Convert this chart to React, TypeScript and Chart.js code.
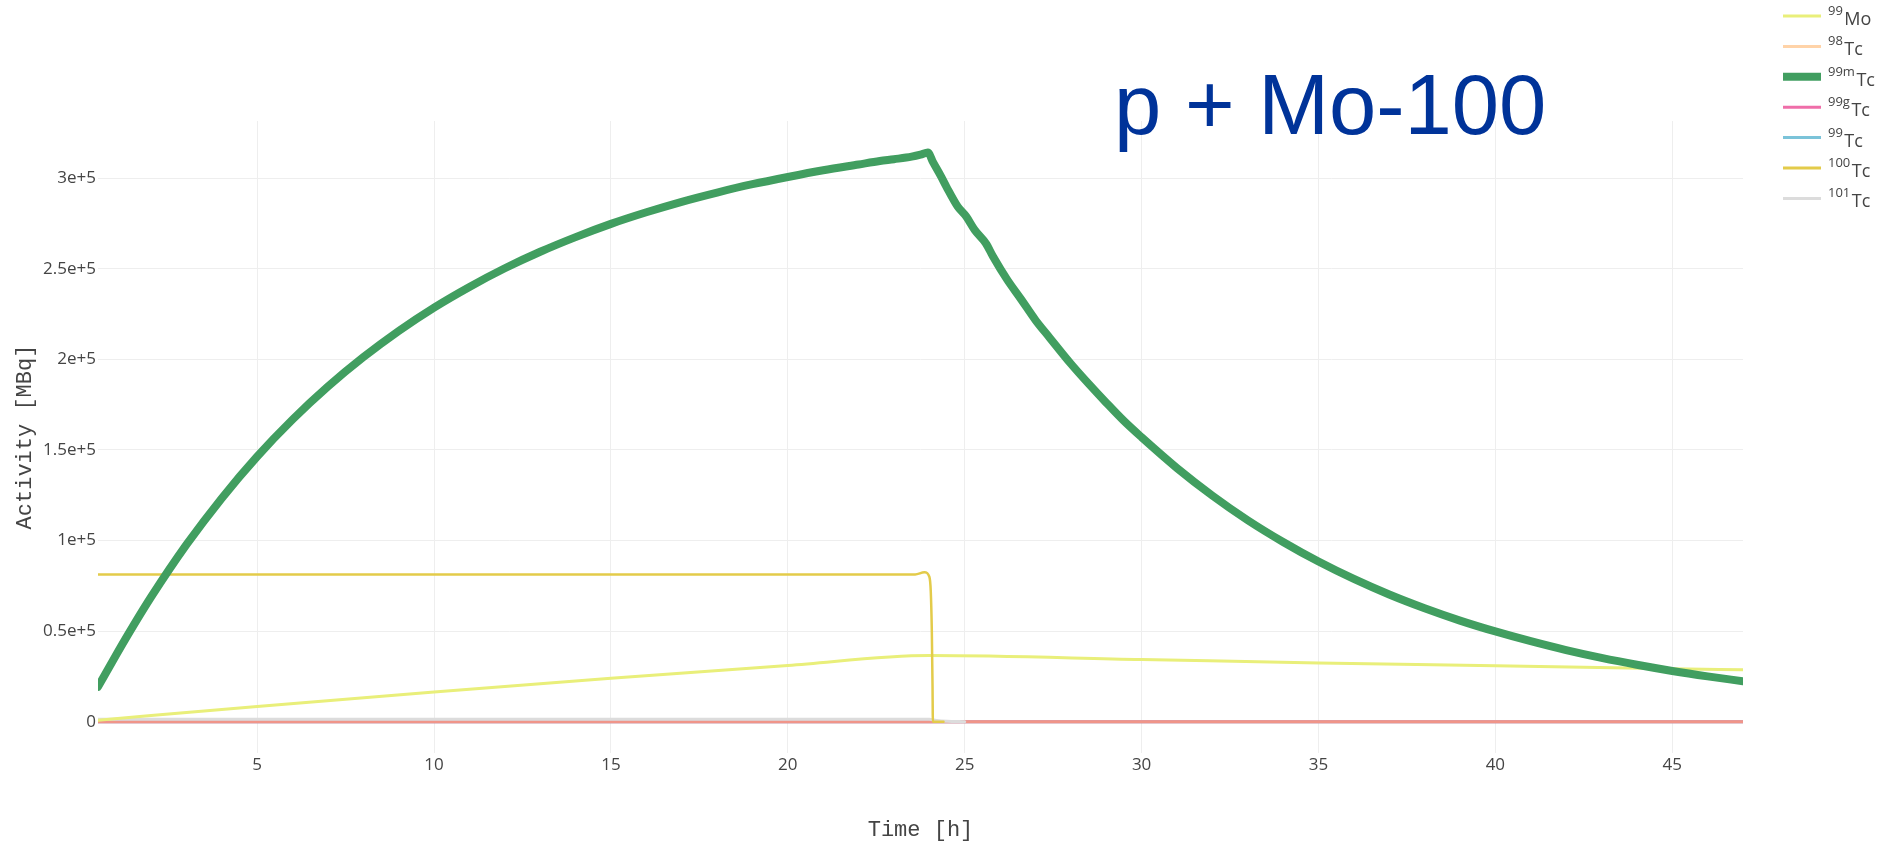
import { useEffect, useRef } from "react";
import { Chart, registerables } from "chart.js";

Chart.register(...registerables);

// ---------- data ----------
const seriesNames = ["99Mo", "98Tc", "99mTc", "99gTc", "99Tc", "100Tc", "101Tc"];
const legendSup = ["99", "98", "99m", "99g", "99", "100", "101"];
const legendBase = ["Mo", "Tc", "Tc", "Tc", "Tc", "Tc", "Tc"];

const mo99Times = [0.5, 5, 10, 15, 20, 24, 30, 35, 40, 45, 47];
const mo99Activity = [800, 8400, 16400, 23900, 31000, 36500, 34300, 32400, 30900, 29200, 28600];

const tc98Times = [0.5, 47];
const tc98Activity = [0, 0];

const tc99mTimes = [
  0.5, 1, 1.5, 2, 3, 4, 5, 6, 7, 8, 9, 10, 11, 12, 13, 14, 15, 16, 17, 18, 19, 20, 21, 22, 22.6, 23,
  23.5, 23.75, 23.96, 24.1, 24.33, 24.48, 24.8, 25.04, 25.28, 25.6, 25.8, 26.2, 26.6, 27, 27.4, 28,
  28.5, 29, 29.5, 30, 31, 32, 33, 34, 35, 36, 37, 38, 39, 40, 41, 42, 43, 44, 45, 46, 47,
];
const tc99mActivity = [
  19200, 36400, 53000, 68800, 97700, 123400, 146400, 166800, 185000, 201200, 215700, 228600, 240000,
  250300, 259400, 267500, 274800, 281200, 287000, 292100, 296700, 300700, 304400, 307600, 309500,
  310500, 311900, 313000, 314200, 309000, 301000, 295400, 284400, 278900, 271500, 264000, 256800,
  244000, 233000, 221700, 212000, 197600, 186600, 176100, 166000, 157000, 140000, 124800, 111200,
  99200, 88400, 78800, 70200, 62600, 55800, 49800, 44400, 39500, 35200, 31400, 28000, 25000, 22300,
];

const tc99gTimes = [0.5, 47];
const tc99gActivity = [0, 0];

const tc99Times = [0.5, 47];
const tc99Activity = [0, 0];

const tc100Times = [0.5, 23.6, 23.86, 24.0, 24.04, 24.07, 24.09, 24.1, 24.4];
const tc100Activity = [81300, 81300, 82500, 80000, 72000, 50000, 20000, 0, 0];

const tc101Times = [0.5, 24, 24.2, 24.5, 25];
const tc101Activity = [1300, 1300, 700, 250, 0];

const xTickValues = [5, 10, 15, 20, 25, 30, 35, 40, 45];
const yTickValues = [0, 50000, 100000, 150000, 200000, 250000, 300000];
const yTickLabels = ["0", "0.5e+5", "1e+5", "1.5e+5", "2e+5", "2.5e+5", "3e+5"];

const titleText = "p + Mo-100";
const xTitle = "Time [h]";
const yTitle = "Activity [MBq]";

// ---------- styles ----------
const lineColors = [
  "#e9ef7a",
  "rgba(240,170,120,0.65)",
  "#419e60",
  "#ef6ea9",
  "#7bc3d9",
  "#e3cb4a",
  "#dcdcdc",
];
const legendColors = ["#e9ef7a", "#ffd3a8", "#419e60", "#ef6ea9", "#7bc3d9", "#e3cb4a", "#dcdcdc"];
const lineWidths = [3, 3, 8, 3, 3, 2.5, 3];
const drawOrder = [2, 4, 0, 5, 6, 1, 3];

const allTimes = [mo99Times, tc98Times, tc99mTimes, tc99gTimes, tc99Times, tc100Times, tc101Times];
const allValues = [mo99Activity, tc98Activity, tc99mActivity, tc99gActivity, tc99Activity, tc100Activity, tc101Activity];

const overlayPlugin = {
  id: "overlay",
  afterDraw(chart: any) {
    const ctx: CanvasRenderingContext2D = chart.ctx;
    ctx.save();
    ctx.textBaseline = "alphabetic";
    ctx.textAlign = "left";
    ctx.fillStyle = "rgb(0,51,153)";
    ctx.font = '85px "Liberation Sans", Arial, sans-serif';
    ctx.fillText(titleText, 1114, 134);

    seriesNames.forEach((_, i) => {
      const cy = 16 + i * 30.4;
      ctx.strokeStyle = legendColors[i];
      ctx.lineWidth = lineWidths[i] === 8 ? 8 : 3;
      ctx.beginPath();
      ctx.moveTo(1783, cy);
      ctx.lineTo(1821, cy);
      ctx.stroke();
      ctx.fillStyle = "#444";
      ctx.font = '13px "Open Sans", sans-serif';
      ctx.fillText(legendSup[i], 1828, cy - 1);
      const w = ctx.measureText(legendSup[i]).width;
      ctx.font = '18px "Open Sans", sans-serif';
      ctx.fillText(legendBase[i], 1828 + w + 1.5, cy + 9);
    });
    ctx.restore();
  },
};

export default function App() {
  const canvasRef = useRef<HTMLCanvasElement | null>(null);

  useEffect(() => {
    document.body.style.margin = "0";
    document.body.style.overflow = "hidden";
    const canvas = canvasRef.current;
    if (!canvas) return;

    const datasets = seriesNames.map((name, i) => ({
      label: name,
      data: allTimes[i].map((t, j) => ({ x: t, y: allValues[i][j] })),
      borderColor: lineColors[i],
      backgroundColor: lineColors[i],
      borderWidth: lineWidths[i],
      pointRadius: 0,
      fill: false,
      cubicInterpolationMode: "monotone" as const,
      borderCapStyle: "round" as const,
      borderJoinStyle: "round" as const,
      order: drawOrder[i],
    }));

    const chart = new Chart(canvas, {
      type: "line",
      data: { datasets },
      options: {
        responsive: false,
        animation: false,
        devicePixelRatio: 1,
        layout: { padding: { left: 0, top: 121, right: 140, bottom: 0 } },
        plugins: {
          legend: { display: false },
          tooltip: { enabled: false },
          title: { display: false },
        },
        scales: {
          x: {
            type: "linear",
            min: 0.5,
            max: 47,
            border: { display: false },
            grid: { color: "#eeeeee", drawTicks: false, lineWidth: 1 },
            ticks: {
              padding: 2,
              color: "#444",
              font: { family: '"Open Sans", sans-serif', size: 17 },
              callback: (v: any) => String(v),
            },
            afterBuildTicks: (s: any) => {
              s.ticks = xTickValues.map((v) => ({ value: v }));
            },
            afterFit: (s: any) => {
              s.height = 90;
            },
            title: {
              display: true,
              text: xTitle,
              color: "#444",
              font: { family: '"Liberation Mono", monospace', size: 22 },
              padding: { top: 0, bottom: 0 },
            },
          },
          y: {
            type: "linear",
            min: -17300,
            max: 331600,
            border: { display: false },
            grid: { color: "#eeeeee", drawTicks: false, lineWidth: 1 },
            ticks: {
              padding: 2,
              color: "#444",
              font: { family: '"Open Sans", sans-serif', size: 17 },
              callback: (v: any) => {
                const k = yTickValues.indexOf(Number(v));
                return k >= 0 ? yTickLabels[k] : "";
              },
            },
            afterBuildTicks: (s: any) => {
              s.ticks = yTickValues.map((v) => ({ value: v }));
            },
            afterFit: (s: any) => {
              s.width = 98;
            },
            title: {
              display: true,
              text: yTitle,
              color: "#444",
              font: { family: '"Liberation Mono", monospace', size: 22 },
              padding: { top: 12, bottom: 0 },
            },
          },
        },
      },
      plugins: [overlayPlugin],
    });

    return () => {
      chart.destroy();
    };
  }, []);

  return (
    <div style={{ position: "relative", width: 1883, height: 843, background: "#fff" }}>
      <canvas ref={canvasRef} width={1883} height={843} style={{ display: "block" }} />
    </div>
  );
}
